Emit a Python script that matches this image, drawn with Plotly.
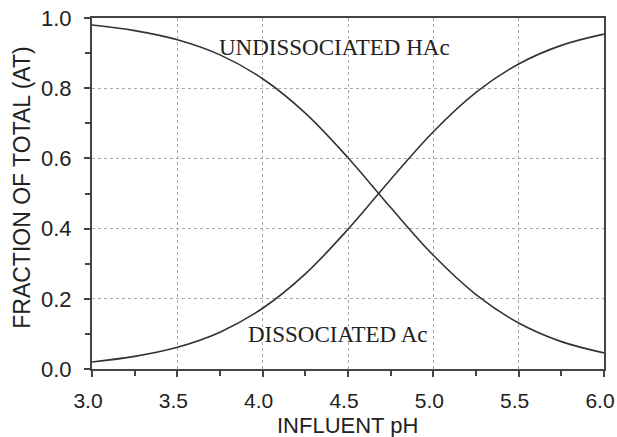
import plotly.graph_objects as go

ph = [3.0, 3.25, 3.5, 3.75, 4.0, 4.25, 4.5, 4.75, 5.0, 5.25, 5.5, 5.75, 6.0]
undissociated = [0.980, 0.964, 0.938, 0.895, 0.827, 0.729, 0.602, 0.460, 0.324, 0.212, 0.131, 0.078, 0.046]
dissociated = [0.020, 0.036, 0.062, 0.105, 0.173, 0.271, 0.398, 0.540, 0.676, 0.788, 0.869, 0.922, 0.954]

x_ticks = [3.0, 3.5, 4.0, 4.5, 5.0, 5.5, 6.0]
y_ticks = [0.0, 0.2, 0.4, 0.6, 0.8, 1.0]

x_title = "INFLUENT pH"
y_title = "FRACTION OF TOTAL (AT)"

line_color = "#333333"

fig = go.Figure()
fig.add_trace(go.Scatter(x=ph, y=undissociated, mode="lines",
                         line=dict(color=line_color, width=1.6, shape="spline"),
                         showlegend=False))
fig.add_trace(go.Scatter(x=ph, y=dissociated, mode="lines",
                         line=dict(color=line_color, width=1.6, shape="spline"),
                         showlegend=False))

serif = dict(family="Liberation Serif, Times New Roman, serif", size=23, color="#222222")
fig.add_annotation(x=4.42, y=0.915, text="UNDISSOCIATED HAc", showarrow=False, font=serif)
fig.add_annotation(x=4.44, y=0.097, text="DISSOCIATED Ac", showarrow=False, font=serif)

xtickf = dict(family="Liberation Sans, Arial, sans-serif", size=21, color="#222222")
ytickf = dict(family="Liberation Sans, Arial, sans-serif", size=22, color="#222222")
xtitlef = dict(family="Liberation Sans, Arial, sans-serif", size=22, color="#222222")
ytitlef = dict(family="Liberation Sans, Arial, sans-serif", size=23, color="#222222")

# axis titles placed as annotations for exact positioning
fig.add_annotation(xref="paper", yref="paper", x=0.499, y=-0.119, xanchor="center", yanchor="top",
                   text=x_title, showarrow=False, font=xtitlef)
fig.add_annotation(xref="paper", yref="paper", x=-0.137, y=0.516, xanchor="center", yanchor="middle",
                   text=y_title, textangle=-90, showarrow=False, font=ytitlef)

fig.update_xaxes(range=[3.0, 6.0], tickvals=x_ticks, ticktext=[f"{v:.1f}" for v in x_ticks],
                 showline=True, linecolor="#444444", linewidth=2, mirror=True,
                 ticks="outside", ticklen=6, tickcolor="#444444", tickwidth=1.5,
                 minor=dict(dtick=0.25, ticks="outside", ticklen=5, tickcolor="#444444", showgrid=False),
                 showgrid=True, gridcolor="#a8a8a8", gridwidth=1, griddash="dot",
                 zeroline=False, tickfont=xtickf, automargin=False, ticklabeloverflow="allow",
                 ticklabelstandoff=6, ticklabelshift=-4)
fig.update_yaxes(range=[0.0, 1.0], tickvals=y_ticks, ticktext=[f"{v:.1f}" for v in y_ticks],
                 showline=True, linecolor="#444444", linewidth=2, mirror=True,
                 ticks="outside", ticklen=6, tickcolor="#444444", tickwidth=1.5,
                 minor=dict(dtick=0.1, ticks="outside", ticklen=5, tickcolor="#444444", showgrid=False),
                 showgrid=True, gridcolor="#a8a8a8", gridwidth=1, griddash="dot",
                 zeroline=False, tickfont=ytickf, automargin=False, ticklabeloverflow="allow",
                 ticklabelstandoff=8)

fig.update_layout(width=617, height=437, margin=dict(l=92, r=13, t=18, b=68),
                  plot_bgcolor="white", paper_bgcolor="white")

fig.write_html("out.html")
